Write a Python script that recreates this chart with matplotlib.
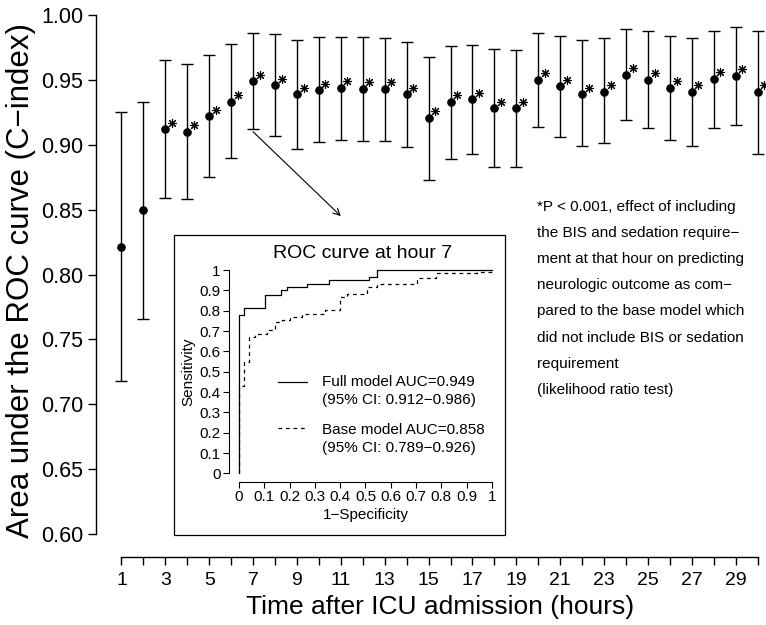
import matplotlib
matplotlib.use('Agg')
import matplotlib.pyplot as plt
from matplotlib.patches import Rectangle
import numpy as np

plt.rcParams['font.family'] = ['Liberation Sans', 'DejaVu Sans']

# ---------------- data ----------------
hours = list(range(1, 31))
auc = [0.821, 0.850, 0.912, 0.910, 0.922, 0.933, 0.949, 0.946, 0.939, 0.942,
       0.944, 0.943, 0.943, 0.939, 0.921, 0.933, 0.935, 0.928, 0.928, 0.950,
       0.945, 0.939, 0.941, 0.954, 0.950, 0.944, 0.941, 0.951, 0.953, 0.941]
ci_low = [0.718, 0.766, 0.859, 0.858, 0.875, 0.890, 0.912, 0.907, 0.897, 0.902,
          0.904, 0.903, 0.903, 0.898, 0.873, 0.889, 0.893, 0.883, 0.883, 0.914,
          0.906, 0.899, 0.901, 0.919, 0.913, 0.904, 0.899, 0.913, 0.915, 0.893]
ci_high = [0.925, 0.933, 0.965, 0.962, 0.969, 0.978, 0.986, 0.985, 0.981, 0.983,
           0.983, 0.983, 0.982, 0.979, 0.968, 0.976, 0.977, 0.974, 0.973, 0.986,
           0.984, 0.981, 0.982, 0.989, 0.988, 0.984, 0.982, 0.988, 0.991, 0.988]
significant = [False, False] + [True] * 28

y_ticks = [0.60, 0.65, 0.70, 0.75, 0.80, 0.85, 0.90, 0.95, 1.00]
x_tick_labels = [str(h) if h % 2 == 1 else '' for h in hours]

# ROC curve at hour 7 (vertices of step curves)
full_fpr = [0, 0, 0.02, 0.02, 0.103, 0.103, 0.166, 0.166, 0.189, 0.189, 0.27, 0.27,
            0.354, 0.354, 0.516, 0.516, 0.545, 0.545, 1.0]
full_tpr = [0, 0.78, 0.78, 0.815, 0.815, 0.88, 0.88, 0.90, 0.90, 0.915, 0.915, 0.934,
            0.934, 0.949, 0.949, 0.967, 0.967, 1.0, 1.0]
base_fpr = [0, 0, 0.02, 0.02, 0.04, 0.04, 0.063, 0.063, 0.11, 0.11, 0.142, 0.142,
            0.169, 0.169, 0.202, 0.202, 0.248, 0.248, 0.34, 0.34, 0.40, 0.40, 0.426,
            0.426, 0.505, 0.505, 0.545, 0.545, 0.703, 0.703, 0.78, 0.78, 0.94, 0.94,
            1.0, 1.0]
base_tpr = [0, 0.43, 0.43, 0.55, 0.55, 0.672, 0.672, 0.685, 0.685, 0.705, 0.705, 0.746,
            0.746, 0.757, 0.757, 0.77, 0.77, 0.782, 0.782, 0.803, 0.803, 0.869, 0.869,
            0.882, 0.882, 0.915, 0.915, 0.934, 0.934, 0.959, 0.959, 0.984, 0.984, 0.992,
            0.992, 1.0]
roc_ticks = [0, 0.1, 0.2, 0.3, 0.4, 0.5, 0.6, 0.7, 0.8, 0.9, 1]
roc_tick_labels = ['0', '0.1', '0.2', '0.3', '0.4', '0.5', '0.6', '0.7', '0.8', '0.9', '1']

note_text = ("*P < 0.001, effect of including\n"
             "the BIS and sedation require\u2212\n"
             "ment at that hour on predicting\n"
             "neurologic outcome as com\u2212\n"
             "pared to the base model which\n"
             "did not include BIS or sedation\n"
             "requirement\n"
             "(likelihood ratio test)")

# ---------------- figure ----------------
W, H = 766, 625
fig = plt.figure(figsize=(W / 100, H / 100), dpi=100)


def fx(px):
    return px / W


def fy(py):
    return 1 - py / H


ax = fig.add_axes([fx(96), fy(557), fx(766) - fx(96), fy(5) - fy(557)])
ax.set_xlim(-0.16, -0.16 + 670 / 21.94)
ax.set_ylim(1 - 542 / 1297.5, 1 + 10 / 1297.5)
for s in ['top', 'right']:
    ax.spines[s].set_visible(False)
ax.spines['left'].set_bounds(0.6, 1.0)
ax.spines['bottom'].set_bounds(1, 30)
for s in ['left', 'bottom']:
    ax.spines[s].set_linewidth(1.0)
ax.set_yticks(y_ticks)
ax.set_yticklabels(['%.2f' % v for v in y_ticks], fontsize=15.5)
ax.set_xticks(hours)
ax.set_xticklabels(x_tick_labels, fontsize=14)
ax.tick_params(axis='both', direction='out', length=6, width=1.0)
ax.tick_params(axis='y', pad=3)
ax.tick_params(axis='x', pad=5)
ax.patch.set_visible(False)

auc_a = np.array(auc)
lo = np.array(ci_low)
hi = np.array(ci_high)
ax.errorbar(hours, auc_a, yerr=[auc_a - lo, hi - auc_a], fmt='o', color='black',
            ms=5.2, capsize=4, elinewidth=1.0, capthick=1.0)
sig = np.array(significant)
ax.plot(np.array(hours)[sig] + 0.3, auc_a[sig] + 0.005, ls='none',
        marker=(8, 2, 0), ms=6.5, mew=0.8, color='black')

ax.annotate('', xy=(11, 0.845), xytext=(7, 0.91),
            arrowprops=dict(arrowstyle='->', lw=0.8, color='black',
                            mutation_scale=12, shrinkA=0, shrinkB=0))

fig.text(fx(21), fy(281), 'Area under the ROC curve (C\u2212index)', rotation=90,
         ha='center', va='center', fontsize=22.5)
fig.text(fx(440), fy(607), 'Time after ICU admission (hours)', ha='center',
         va='center', fontsize=19)

fig.text(fx(537), fy(200), note_text, ha='left', va='top', fontsize=11,
         linespacing=2.1)

# ---------------- inset ----------------
fig.patches.append(Rectangle((fx(174), fy(535)), fx(505) - fx(174), fy(235) - fy(535),
                             transform=fig.transFigure, facecolor='white',
                             edgecolor='black', lw=0.9, zorder=5))

iax = fig.add_axes([fx(228.9), fy(481.5), fx(502) - fx(228.9), fy(262) - fy(481.5)],
                   zorder=6)
iax.patch.set_visible(False)
iax.set_xlim(-0.04, 1.04)
iax.set_ylim(-0.04, 1.04)
for s in ['top', 'right']:
    iax.spines[s].set_visible(False)
iax.spines['left'].set_bounds(0, 1)
iax.spines['bottom'].set_bounds(0, 1)
iax.spines['left'].set_linewidth(0.8)
iax.spines['bottom'].set_linewidth(0.8)
iax.set_xticks(roc_ticks)
iax.set_xticklabels(roc_tick_labels, fontsize=11)
iax.set_yticks(roc_ticks)
iax.set_yticklabels(roc_tick_labels, fontsize=11)
iax.tick_params(axis='both', direction='out', length=4, width=0.8, pad=2)
iax.plot(full_fpr, full_tpr, color='black', lw=0.9)
iax.plot(base_fpr, base_tpr, color='black', lw=0.9, ls=(0, (3, 3)))
iax.plot([0.154, 0.268], [0.45, 0.45], color='black', lw=0.9)
iax.plot([0.154, 0.268], [0.221, 0.221], color='black', lw=0.9, ls=(0, (3, 3)))
iax.text(0.327, 0.45, 'Full model AUC=0.949', fontsize=11, va='center', ha='left')
iax.text(0.327, 0.36, '(95% CI: 0.912\u22120.986)', fontsize=11, va='center', ha='left')
iax.text(0.327, 0.213, 'Base model AUC=0.858', fontsize=11, va='center', ha='left')
iax.text(0.327, 0.123, '(95% CI: 0.789\u22120.926)', fontsize=11, va='center', ha='left')
iax.set_xlabel('1\u2212Specificity', fontsize=11, labelpad=3)
iax.set_ylabel('Sensitivity', fontsize=11, labelpad=3)
fig.text(fx(363), fy(253), 'ROC curve at hour 7', ha='center', va='center',
         fontsize=14, zorder=7)

fig.savefig('out.png', dpi=100)
